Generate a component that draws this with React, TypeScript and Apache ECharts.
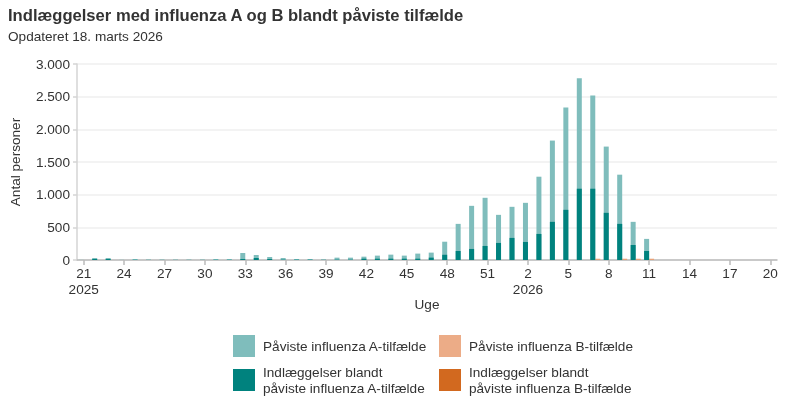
import React, { useEffect, useRef } from "react";
import * as echarts from "echarts";

const weeks: number[] = [
  21, 22, 23, 24, 25, 26, 27, 28, 29, 30, 31, 32, 33, 34, 35, 36, 37, 38, 39, 40,
  41, 42, 43, 44, 45, 46, 47, 48, 49, 50, 51, 52, 1, 2, 3, 4, 5, 6, 7, 8, 9, 10,
  11, 12, 13, 14, 15, 16, 17, 18, 19, 20,
];

const yearLabels: Record<number, string> = { 0: "2025", 33: "2026" };

const casesA: number[] = [
  2, 31, 31, 3, 15, 5, 4, 4, 4, 4, 15, 15, 107, 77, 46, 31, 15, 15, 6, 36,
  36, 51, 67, 82, 67, 98, 113, 280, 553, 829, 952, 691, 814, 875, 1275, 1828, 2335, 2780, 2519, 1736, 1306, 584,
  323, 0, 0, 0, 0, 0, 0, 0, 0, 0,
];

const admissionsA: number[] = [
  0, 15, 15, 0, 3, 2, 2, 2, 2, 2, 3, 3, 15, 31, 15, 5, 5, 5, 3, 5,
  5, 20, 20, 20, 20, 20, 36, 80, 138, 169, 215, 261, 338, 276, 399, 584, 768, 1091, 1091, 722, 553, 230,
  138, 0, 0, 0, 0, 0, 0, 0, 0, 0,
];

const casesB: number[] = [
  0, 0, 0, 0, 0, 0, 0, 0, 0, 0, 0, 0, 0, 0, 0, 0, 0, 0, 0, 0,
  0, 0, 0, 0, 0, 0, 0, 0, 0, 0, 0, 0, 0, 0, 0, 0, 0, 0, 20, 0, 20, 20,
  20, 0, 0, 0, 0, 0, 0, 0, 0, 0,
];

const admissionsB: number[] = [
  0, 0, 0, 0, 0, 0, 0, 0, 0, 0, 0, 0, 0, 0, 0, 0, 0, 0, 0, 0,
  0, 0, 0, 0, 0, 0, 0, 0, 0, 0, 0, 0, 0, 0, 0, 0, 0, 0, 2, 0, 2, 2,
  2, 0, 0, 0, 0, 0, 0, 0, 0, 0,
];

const yTicks = { min: 0, max: 3000, interval: 500 };

const NAME_A_CASES = "Påviste influenza A-tilfælde";
const NAME_A_ADM = "Indlæggelser blandt påviste influenza A-tilfælde";
const NAME_B_CASES = "Påviste influenza B-tilfælde";
const NAME_B_ADM = "Indlæggelser blandt påviste influenza B-tilfælde";

const COL_A_LIGHT = "#7fbdbc";
const COL_A_DARK = "#00827e";
const COL_B_LIGHT = "#ecac87";
const COL_B_DARK = "#d2691f";

const FONT = "'Liberation Sans', Arial, sans-serif";
const TXT = "#333333";
const FS = 13.6;

function fmtThousands(v: number): string {
  return String(v).replace(/\B(?=(\d{3})+(?!\d))/g, ".");
}

export default function App() {
  const ref = useRef<HTMLDivElement>(null);

  useEffect(() => {
    if (!ref.current) return;
    const chart = echarts.init(ref.current, undefined, { renderer: "svg" });
    const cats = weeks.map(String);
    const legendText = {
      fontFamily: FONT,
      fontSize: FS,
      color: TXT,
      lineHeight: 16,
      padding: [0, 0, 0, 3],
    };
    const legendFormatter = (name: string) =>
      name.startsWith("Indlæggelser blandt ")
        ? name.replace("Indlæggelser blandt ", "Indlæggelser blandt\n")
        : name;
    const legendBase = {
      orient: "vertical" as const,
      top: 335,
      height: 72,
      padding: 0,
      itemWidth: 22,
      itemHeight: 22,
      itemGap: 7,
      icon: "rect",
      textStyle: legendText,
      formatter: legendFormatter,
      selectedMode: false,
    };
    const xAxisBase = {
      type: "category" as const,
      data: cats,
      boundaryGap: true,
    };
    chart.setOption({
      animation: false,
      textStyle: { fontFamily: FONT },
      title: [
        {
          text: "Indlæggelser med influenza A og B blandt påviste tilfælde",
          left: 3,
          top: 2,
          textStyle: { fontFamily: FONT, fontSize: 16.6, fontWeight: "bold", color: TXT },
        },
        {
          text: "Opdateret 18. marts 2026",
          left: 3,
          top: 24,
          textStyle: { fontFamily: FONT, fontSize: FS, fontWeight: "normal", color: TXT },
        },
      ],
      legend: [
        { ...legendBase, data: [NAME_A_CASES, NAME_A_ADM], left: 233 },
        { ...legendBase, data: [NAME_B_CASES, NAME_B_ADM], left: 439 },
      ],
      grid: { left: 77, right: 23, top: 64, bottom: 149, containLabel: false },
      xAxis: [
        {
          ...xAxisBase,
          name: "Uge",
          nameLocation: "middle",
          nameGap: 34,
          nameTextStyle: { fontFamily: FONT, fontSize: FS, color: TXT },
          axisLine: { show: true, lineStyle: { color: "#bbbbbb", width: 1.5 } },
          axisTick: {
            show: true,
            interval: 2,
            alignWithLabel: true,
            length: 5,
            lineStyle: { color: "#bbbbbb", width: 1.5 },
          },
          axisLabel: {
            interval: 2,
            margin: 5,
            fontFamily: FONT,
            fontSize: FS,
            color: TXT,
            lineHeight: 16,
            formatter: (v: string, i: number) =>
              yearLabels[i] ? `${v}\n${yearLabels[i]}` : v,
          },
        },
        {
          ...xAxisBase,
          show: false,
        },
      ],
      yAxis: {
        type: "value",
        min: yTicks.min,
        max: yTicks.max,
        interval: yTicks.interval,
        name: "Antal personer",
        nameLocation: "middle",
        nameRotate: 90,
        nameGap: 55,
        nameTextStyle: { fontFamily: FONT, fontSize: FS, color: TXT },
        axisLine: { show: true, lineStyle: { color: "#d4d4d4", width: 1.5 } },
        axisTick: { show: true, length: 4, lineStyle: { color: "#d4d4d4", width: 1.5 } },
        axisLabel: {
          fontFamily: FONT,
          fontSize: FS,
          color: TXT,
          margin: 7,
          formatter: (v: number) => fmtThousands(v),
        },
        splitLine: { show: true, lineStyle: { color: "#efefef", width: 1.5 } },
      },
      series: [
        {
          name: NAME_A_CASES,
          type: "bar",
          xAxisIndex: 0,
          data: casesA,
          barWidth: 5,
          barGap: "0%",
          itemStyle: { color: COL_A_LIGHT },
          z: 2,
        },
        {
          name: NAME_B_CASES,
          type: "bar",
          xAxisIndex: 0,
          data: casesB,
          barWidth: 5,
          barGap: "0%",
          itemStyle: { color: COL_B_LIGHT },
          z: 2,
        },
        {
          name: NAME_A_ADM,
          type: "bar",
          xAxisIndex: 1,
          data: admissionsA,
          barWidth: 5,
          barGap: "0%",
          itemStyle: { color: COL_A_DARK },
          z: 3,
        },
        {
          name: NAME_B_ADM,
          type: "bar",
          xAxisIndex: 1,
          data: admissionsB,
          barWidth: 5,
          barGap: "0%",
          itemStyle: { color: COL_B_DARK },
          z: 3,
        },
      ],
    });
    return () => chart.dispose();
  }, []);

  return (
    <div
      ref={ref}
      style={{ position: "fixed", left: 0, top: 0, width: 800, height: 409 }}
    />
  );
}
